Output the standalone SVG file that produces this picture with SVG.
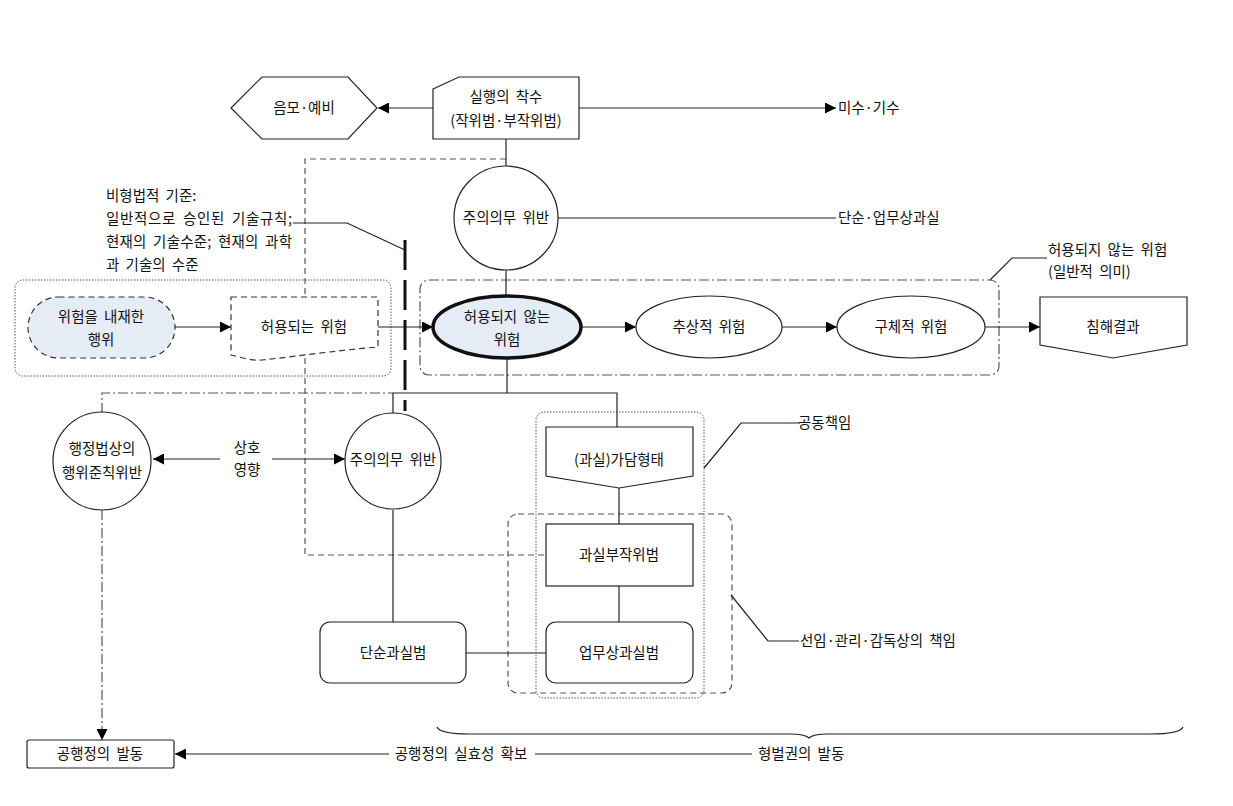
<svg xmlns="http://www.w3.org/2000/svg" width="1233" height="806" viewBox="0 0 1233 806">
<defs>
<marker id="arr" viewBox="0 0 10 10" refX="10" refY="5" markerWidth="11" markerHeight="11" markerUnits="userSpaceOnUse" orient="auto"><path d="M0,0 L10,5 L0,10 Z" fill="#000"/></marker>
<style>
text{font-family:"Noto Sans CJK KR","Noto Sans",sans-serif;font-size:14.5px;word-spacing:3px;fill:#111;}
.c{text-anchor:middle;}
.s{fill:#fff;stroke:#222;stroke-width:1.2;}
.ln{fill:none;stroke:#222;stroke-width:1.2;}
.dash{fill:none;stroke:#555;stroke-width:1.2;stroke-dasharray:6,4;}
.dot{fill:none;stroke:#555;stroke-width:1;stroke-dasharray:1.5,1.5;}
.dd{fill:none;stroke:#555;stroke-width:1.2;stroke-dasharray:10,3,2,3;}
.blue{fill:#e6ecf5;}
</style>
</defs>
<rect width="1233" height="806" fill="#fff"/>

<!-- grouping frames -->
<g id="frames">
<rect x="15" y="280" width="376" height="96" rx="8" class="dot"/>
<rect x="420" y="280" width="579" height="95" rx="9" class="dd"/>
<rect x="536" y="412" width="168" height="286" rx="8" class="dot"/>
<rect x="508" y="514" width="224" height="179" rx="10" class="dash"/>
</g>

<g id="connectors">
<path d="M506,159 H305 V555 H546" class="dash"/>
<line x1="433" y1="108" x2="378" y2="108" class="ln" marker-end="url(#arr)"/>
<line x1="579" y1="108" x2="836" y2="108" class="ln" marker-end="url(#arr)"/>
<line x1="506" y1="139" x2="506" y2="166" class="ln"/>
<line x1="558" y1="218" x2="836" y2="218" class="ln"/>
<line x1="506" y1="270" x2="506" y2="296" class="ln"/>
<line x1="175" y1="327" x2="231" y2="327" class="ln" marker-end="url(#arr)"/>
<line x1="378" y1="327" x2="433" y2="327" class="ln" marker-end="url(#arr)"/>
<line x1="582" y1="327" x2="636" y2="327" class="ln" marker-end="url(#arr)"/>
<line x1="782" y1="327" x2="837" y2="327" class="ln" marker-end="url(#arr)"/>
<line x1="985" y1="327" x2="1040" y2="327" class="ln" marker-end="url(#arr)"/>
<path d="M507,359 V393" class="ln"/>
<path d="M393,413 V393 H617 V427" class="ln"/>
<path d="M102,413 V393 H393" class="dd"/>
<line x1="405" y1="240" x2="405" y2="411" stroke="#111" stroke-width="3" stroke-dasharray="30,10"/>
<path d="M293,223 H347 L405,250" class="ln"/>
<line x1="220" y1="459" x2="153" y2="459" class="ln" marker-end="url(#arr)"/>
<line x1="272" y1="459" x2="345" y2="459" class="ln" marker-end="url(#arr)"/>
<line x1="393" y1="510" x2="393" y2="622" class="ln"/>
<line x1="466" y1="653" x2="546" y2="653" class="ln"/>
<line x1="619" y1="488" x2="619" y2="524" class="ln"/>
<line x1="619" y1="586" x2="619" y2="622" class="ln"/>
<line x1="102" y1="510" x2="102" y2="740" class="dd" marker-end="url(#arr)"/>
<path d="M990,280 L1012,258 H1047" class="ln"/>
<path d="M704,468 L741,423 H800" class="ln"/>
<path d="M731,595 L768,641 H799" class="ln"/>
<path d="M437,727 Q440,734 470,734 L790,734 Q805,734 809,738 Q813,734 828,734 L1150,734 Q1180,734 1183,727" class="ln"/>
<line x1="389" y1="754" x2="175" y2="754" class="ln" marker-end="url(#arr)"/>
<line x1="535" y1="754" x2="752" y2="754" class="ln"/>
</g>

<g id="n-eummo"><polygon points="231,108 262,77 348,77 377,108 348,139 262,139" class="s"/><text x="304" y="113" class="c">음모·예비</text></g>
<g id="n-start"><polygon points="433,89 459,77 579,77 579,139 433,139" class="s"/><text x="506" y="102" class="c">실행의 착수</text><text x="506" y="126" class="c">(작위범·부작위범)</text></g>
<g id="n-misu"><text x="838" y="113">미수·기수</text></g>
<g id="n-duty1"><circle cx="506" cy="218" r="52" class="s"/><text x="506" y="223" class="c">주의의무 위반</text></g>
<g id="n-simple"><text x="838" y="223">단순·업무상과실</text></g>
<g id="n-note"><text x="106" y="201">비형법적 기준:</text><text x="106" y="224" textLength="186" lengthAdjust="spacing">일반적으로 승인된 기술규칙;</text><text x="106" y="247" textLength="186" lengthAdjust="spacing">현재의 기술수준; 현재의 과학</text><text x="106" y="270">과 기술의 수준</text></g>
<g id="n-act"><rect x="28" y="297" width="147" height="61" rx="30.5" class="blue" stroke="#333" stroke-width="1.2" stroke-dasharray="6,4"/><text x="101" y="322" class="c">위험을 내재한</text><text x="101" y="345" class="c">행위</text></g>
<g id="n-allowed"><path d="M231,297 H378 V347 C340,350 300,356 262,360 C250,361 240,357 231,355 Z" fill="#fff" stroke="#333" stroke-width="1.2" stroke-dasharray="6,4"/><text x="304" y="332" class="c">허용되는 위험</text></g>
<g id="n-notallowed"><ellipse cx="507" cy="327" rx="74" ry="31" class="blue" stroke="#111" stroke-width="3.5"/><text x="507" y="322" class="c">허용되지 않는</text><text x="507" y="345" class="c">위험</text></g>
<g id="n-abstract"><ellipse cx="709" cy="327" rx="73" ry="31" class="s"/><text x="709" y="332" class="c">추상적 위험</text></g>
<g id="n-concrete"><ellipse cx="911" cy="327" rx="74" ry="31" class="s"/><text x="911" y="332" class="c">구체적 위험</text></g>
<g id="n-harm"><polygon points="1040,297 1187,297 1187,345 1113,358 1040,345" class="s"/><text x="1113" y="332" class="c">침해결과</text></g>
<g id="n-general"><text x="1048" y="255">허용되지 않는 위험</text><text x="1048" y="277">(일반적 의미)</text></g>
<g id="n-admin"><circle cx="102" cy="461" r="49" class="s"/><text x="102" y="454" class="c">행정법상의</text><text x="102" y="478" class="c">행위준칙위반</text></g>
<g id="n-mutual"><text x="247" y="453" class="c">상호</text><text x="247" y="475" class="c">영향</text></g>
<g id="n-duty2"><circle cx="393" cy="461" r="48" class="s"/><text x="393" y="465" class="c">주의의무 위반</text></g>
<g id="n-participation"><polygon points="546,427 693,427 693,476 619,488 546,476" class="s"/><text x="619" y="465" class="c">(과실)가담형태</text></g>
<g id="n-joint"><text x="798" y="428">공동책임</text></g>
<g id="n-omission"><rect x="546" y="524" width="147" height="62" class="s"/><text x="619" y="560" class="c">과실부작위범</text></g>
<g id="n-simpleneg"><rect x="320" y="622" width="146" height="61" rx="10" class="s"/><text x="393" y="658" class="c">단순과실범</text></g>
<g id="n-profneg"><rect x="546" y="622" width="147" height="61" rx="10" class="s"/><text x="619" y="658" class="c">업무상과실범</text></g>
<g id="n-supervise"><text x="800" y="646">선임·관리·감독상의 책임</text></g>
<g id="n-adminact"><rect x="27" y="740" width="147" height="28" rx="2" class="s"/><text x="100" y="759" class="c">공행정의 발동</text></g>
<g id="n-effect"><text x="461" y="759" class="c">공행정의 실효성 확보</text></g>
<g id="n-punish"><text x="758" y="759">형벌권의 발동</text></g>
</svg>
